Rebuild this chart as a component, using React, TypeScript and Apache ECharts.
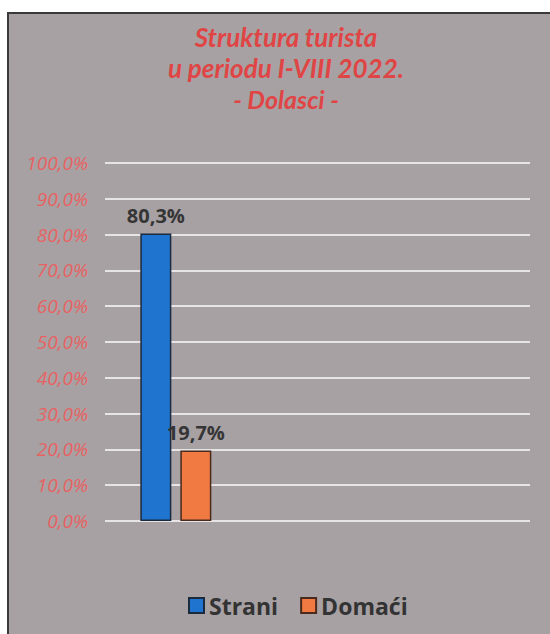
import React, { useEffect, useRef } from "react";
import * as echarts from "echarts";

const titleLines = ["Struktura turista", "u periodu I-VIII 2022.", "- Dolasci -"];
const categories = ["I-VIII 2022."];
const seriesNames = ["Strani", "Domaći"];
const straniValues = [80.3];
const domaciValues = [19.7];
const yTicks = { min: 0, max: 100, interval: 10 };

const fmt = (v: number) => v.toFixed(1).replace(".", ",") + "%";

export default function App() {
  const ref = useRef<HTMLDivElement>(null);
  useEffect(() => {
    if (!ref.current) return;
    const chart = echarts.init(ref.current, null, { renderer: "svg" });
    const labelStyle = {
      show: true,
      position: "top" as const,
      distance: 8,
      formatter: (p: any) => fmt(p.value),
      fontFamily: "Open Sans",
      fontWeight: "bold" as const,
      fontSize: 20,
      color: "#353535",
    };
    chart.setOption({
      animation: false,
      backgroundColor: "#ffffff",
      graphic: [
        {
          type: "rect",
          z: -10,
          silent: true,
          shape: { x: 8, y: 13, width: 560, height: 640 },
          style: { fill: "#a7a1a4", stroke: "#3a3a3a", lineWidth: 2 },
        },
      ],
      title: {
        text: `{a|${titleLines[0]}}\n{a|${titleLines[1]}}\n{b|${titleLines[2]}}`,
        left: 281,
        textAlign: "center",
        top: 16,
        textStyle: {
          rich: {
            a: {
              fontFamily: "Lato",
              fontStyle: "italic",
              fontSize: 26,
              color: "#e04545",
              lineHeight: 31,
            },
            b: {
              fontFamily: "Lato",
              fontStyle: "italic",
              fontWeight: "bold",
              fontSize: 25,
              color: "#e04545",
              lineHeight: 31,
            },
          },
        },
      },
      legend: {
        bottom: 12,
        left: 183,
        itemWidth: 15,
        itemHeight: 15,
        itemGap: 22,
        icon: "rect",
        data: seriesNames,
        textStyle: {
          fontFamily: "Open Sans",
          fontWeight: "bold",
          fontSize: 23,
          color: "#333333",
        },
      },
      grid: { left: 105, right: 20, top: 163, bottom: 113, containLabel: false },
      xAxis: {
        type: "category",
        data: categories,
        max: 2,
        axisLine: { show: false },
        axisTick: { show: false },
        axisLabel: { show: false },
      },
      yAxis: {
        type: "value",
        min: yTicks.min,
        max: yTicks.max,
        interval: yTicks.interval,
        axisLine: { show: false },
        axisTick: { show: false },
        axisLabel: {
          formatter: (v: number) => fmt(v),
          margin: 17,
          fontFamily: "Open Sans",
          fontStyle: "italic",
          fontSize: 19,
          color: "#e86262",
        },
        splitLine: { lineStyle: { color: "#e6e4e5", width: 2 } },
      },
      series: [
        {
          name: seriesNames[0],
          type: "bar",
          data: straniValues,
          barWidth: 31,
          barGap: "29%",
          itemStyle: { color: "#1f74cf", borderColor: "#1c2a3e", borderWidth: 1.5 },
          label: labelStyle,
        },
        {
          name: seriesNames[1],
          type: "bar",
          data: domaciValues,
          barWidth: 31,
          itemStyle: { color: "#f07a42", borderColor: "#4a2a1c", borderWidth: 1.5 },
          label: labelStyle,
        },
      ],
    });
    return () => chart.dispose();
  }, []);
  return (
    <div style={{ position: "absolute", left: 0, top: 0 }}>
      <div ref={ref} style={{ width: 550, height: 634 }} />
    </div>
  );
}
